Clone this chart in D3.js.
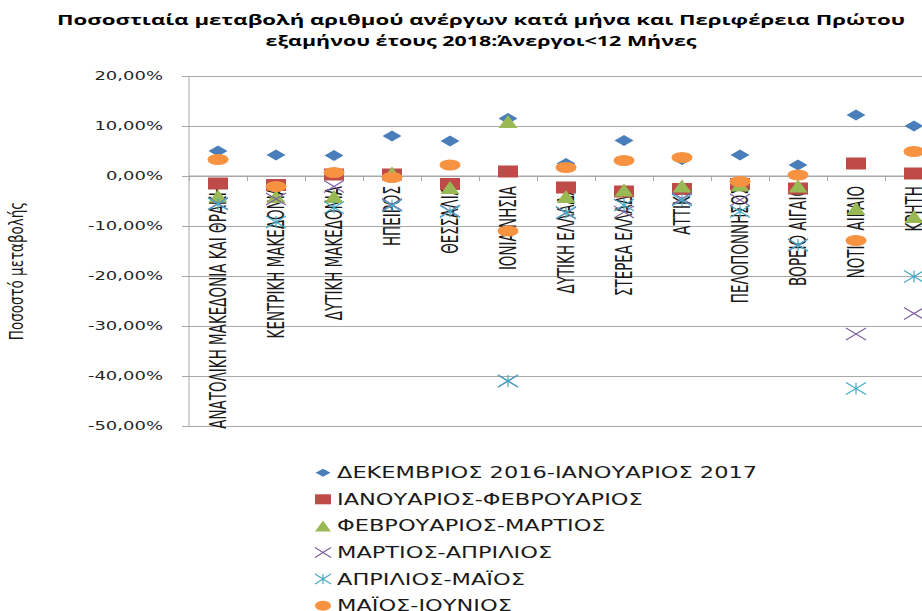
<!DOCTYPE html>
<html><head><meta charset="utf-8">
<script src="https://cdn.jsdelivr.net/npm/d3@7"></script>
<style>body{margin:0;background:#fff} svg{display:block}</style>
</head><body><svg id="c" width="922" height="611"></svg>
<script>
const categories = ["ΑΝΑΤΟΛΙΚΗ ΜΑΚΕΔΟΝΙΑ ΚΑΙ ΘΡΑΚΗ","ΚΕΝΤΡΙΚΗ ΜΑΚΕΔΟΝΙΑ","ΔΥΤΙΚΗ ΜΑΚΕΔΟΝΙΑ","ΗΠΕΙΡΟΣ","ΘΕΣΣΑΛΙΑ","ΙΟΝΙΑ ΝΗΣΙΑ","ΔΥΤΙΚΗ ΕΛΛΑΔΑ","ΣΤΕΡΕΑ ΕΛΛΑΔΑ","ΑΤΤΙΚΗ","ΠΕΛΟΠΟΝΝΗΣΟΣ","ΒΟΡΕΙΟ ΑΙΓΑΙΟ","ΝΟΤΙΟ ΑΙΓΑΙΟ","ΚΡΗΤΗ"];
const seriesNames = ["ΔΕΚΕΜΒΡΙΟΣ 2016-ΙΑΝΟΥΑΡΙΟΣ 2017","ΙΑΝΟΥΑΡΙΟΣ-ΦΕΒΡΟΥΑΡΙΟΣ","ΦΕΒΡΟΥΑΡΙΟΣ-ΜΑΡΤΙΟΣ","ΜΑΡΤΙΟΣ-ΑΠΡΙΛΙΟΣ","ΑΠΡΙΛΙΟΣ-ΜΑΪΟΣ","ΜΑΪΟΣ-ΙΟΥΝΙΟΣ"];
const decJan = [0.050, 0.042, 0.041, 0.080, 0.070, 0.115, 0.025, 0.071, 0.033, 0.042, 0.022, 0.122, 0.100];
const janFeb = [-0.015, -0.018, 0.003, 0.003, -0.016, 0.009, -0.023, -0.031, -0.026, -0.016, -0.025, 0.025, 0.005];
const febMar = [-0.040, -0.041, -0.041, 0.006, -0.023, 0.109, -0.041, -0.028, -0.020, -0.018, -0.020, -0.065, -0.081];
const marApr = [-0.055, -0.046, -0.021, -0.057, -0.070, -0.410, -0.074, -0.072, -0.045, -0.048, -0.138, -0.316, -0.275];
const aprMay = [-0.056, -0.092, -0.063, -0.059, -0.071, -0.410, -0.073, -0.058, -0.048, -0.071, -0.138, -0.425, -0.201];
const mayJun = [0.033, -0.021, 0.007, -0.003, 0.022, -0.110, 0.017, 0.031, 0.037, -0.011, 0.002, -0.129, 0.049];
const yTicks = [0.2, 0.1, 0, -0.1, -0.2, -0.3, -0.4, -0.5];
const titleLines = ["Ποσοστιαία μεταβολή αριθμού ανέργων κατά μήνα και Περιφέρεια Πρώτου", "εξαμήνου έτους 2018:Άνεργοι<12 Μήνες"];
const yTitle = "Ποσοστό μεταβολής";

const seriesValues = [decJan, janFeb, febMar, marApr, aprMay, mayJun];
const colors = ["#4A7EBB", "#BE4B48", "#98B954", "#7D60A0", "#46AAC5", "#F69240"];
const shapes = ["diamond", "square", "triangle", "x", "star", "circle"];

const svg = d3.select("#c");
const SX = 1.5;
const plotLeft = 189, band = 58, plotTop = 76, plotBottom = 426;
const x = d3.scaleBand().domain(categories).range([plotLeft, plotLeft + band * categories.length]);
const xEdge = d3.scaleLinear().domain([0, categories.length]).range([plotLeft, plotLeft + band * categories.length]);
const y = d3.scaleLinear().domain([-0.5, 0.2]).range([plotBottom, plotTop]);
const loc = d3.formatLocale({decimal: ",", thousands: ".", grouping: [3], currency: ["", "€"], minus: "-", percent: "%"});
const fmt = loc.format(".2%");

const narrow = "'Liberation Sans Narrow','DejaVu Sans Condensed','Roboto Condensed','Arial Narrow',sans-serif";
const wide = "'DejaVu Sans',Verdana,sans-serif";

// gridlines
const grid = svg.append("g").attr("transform", `translate(${plotLeft},0)`)
  .call(d3.axisLeft(y).tickValues(yTicks).tickSize(-(922 - plotLeft)).tickFormat(""));
grid.selectAll("line").attr("stroke", "#a8a8a8");
grid.select(".domain").attr("stroke", "#a8a8a8").attr("d", `M0,${plotTop}V${plotBottom}`);

// small outer y ticks
const yt = svg.append("g").attr("transform", `translate(${plotLeft},0)`)
  .call(d3.axisLeft(y).tickValues(yTicks).tickSize(7).tickFormat(""));
yt.select(".domain").remove();
yt.selectAll("line").attr("stroke", "#a8a8a8");

// y tick labels
svg.append("g").selectAll("text").data(yTicks).join("text")
  .attr("transform", d => `translate(163,${y(d)}) scale(${SX},1)`)
  .attr("dy", "0.36em").attr("text-anchor", "end")
  .style("font-family", wide).style("font-size", "12px").attr("fill", "#262626")
  .text(d => fmt(d));

// x axis at zero
const xa = svg.append("g").attr("transform", `translate(0,${y(0)})`)
  .call(d3.axisBottom(xEdge).tickValues(d3.range(0, categories.length + 1)).tickSize(5).tickSizeOuter(0).tickFormat(""));
xa.selectAll("line").attr("stroke", "#a8a8a8");
xa.select(".domain").attr("stroke", "#a8a8a8").attr("d", `M${plotLeft},0H922`);

// category labels
svg.append("g").selectAll("text").data(categories).join("text")
  .attr("transform", d => `translate(${x(d) + x.bandwidth() / 2},186) scale(${SX},1) rotate(-90)`)
  .attr("dy", "0.36em").attr("text-anchor", "end")
  .style("font-family", narrow).style("font-size", "15px").attr("fill", "#1a1a1a")
  .text(d => d);

// marker path generator
function shapePath(shape, w, h) {
  const a = w / 2, b = h / 2;
  switch (shape) {
    case "diamond": return `M0,${-b}L${a},0L0,${b}L${-a},0Z`;
    case "square": return `M${-a},${-b}H${a}V${b}H${-a}Z`;
    case "triangle": return `M0,${-b}L${a},${b}L${-a},${b}Z`;
    case "x": return `M${-a},${-b}L${a},${b}M${-a},${b}L${a},${-b}`;
    case "star": return `M${-a},${-b}L${a},${b}M${-a},${b}L${a},${-b}M0,${-b}V${b}`;
  }
}
const sizes = {diamond: [19, 11], square: [20, 12], triangle: [19, 13], x: [20, 12], star: [20, 12], circle: [21, 11]};
function drawMarker(g, shape, color, w, h) {
  if (shape === "circle") {
    g.append("ellipse").attr("rx", w / 2).attr("ry", h / 2).attr("fill", color);
  } else if (shape === "x" || shape === "star") {
    g.append("path").attr("d", shapePath(shape, w, h)).attr("fill", "none").attr("stroke", color).attr("stroke-width", 1.2);
  } else {
    g.append("path").attr("d", shapePath(shape, w, h)).attr("fill", color);
  }
}

// series
seriesValues.forEach((vals, si) => {
  const g = svg.append("g");
  g.selectAll("g").data(vals).join("g")
    .attr("transform", (d, i) => `translate(${x(categories[i]) + x.bandwidth() / 2},${y(d)})`)
    .each(function () {
      const [w, h] = sizes[shapes[si]];
      drawMarker(d3.select(this), shapes[si], colors[si], w, h);
    });
});

// title
svg.append("g").selectAll("text").data(titleLines).join("text")
  .attr("x", 481).attr("y", (d, i) => 25 + i * 21)
  .attr("text-anchor", "middle")
  .attr("textLength", (d, i) => i === 0 ? 848 : 431).attr("lengthAdjust", "spacingAndGlyphs")
  .style("font-family", "'Open Sans','DejaVu Sans',sans-serif").style("font-weight", "bold").style("font-size", "14px")
  .attr("fill", "#000").text(d => d);

// y title
svg.append("text")
  .attr("transform", `translate(16,271) scale(1.35,1) rotate(-90)`)
  .attr("dy", "0.35em").attr("text-anchor", "middle")
  .style("font-family", narrow).style("font-size", "15px").attr("fill", "#1a1a1a")
  .text(yTitle);

// legend
const lsizes = {diamond: [15, 8], square: [16, 10], triangle: [16, 11], x: [16, 10], star: [16, 10], circle: [16, 10]};
const leg = svg.append("g");
seriesNames.forEach((name, si) => {
  const cy = 472.7 + si * 26.6;
  const mg = leg.append("g").attr("transform", `translate(323,${cy})`);
  const [w, h] = lsizes[shapes[si]];
  drawMarker(mg, shapes[si], colors[si], w, h);
  leg.append("text").attr("transform", `translate(337,${cy}) scale(${SX},1)`)
    .attr("dy", "0.36em")
    .style("font-family", wide).style("font-size", "15px").attr("fill", "#1a1a1a")
    .text(name);
});
</script></body></html>
